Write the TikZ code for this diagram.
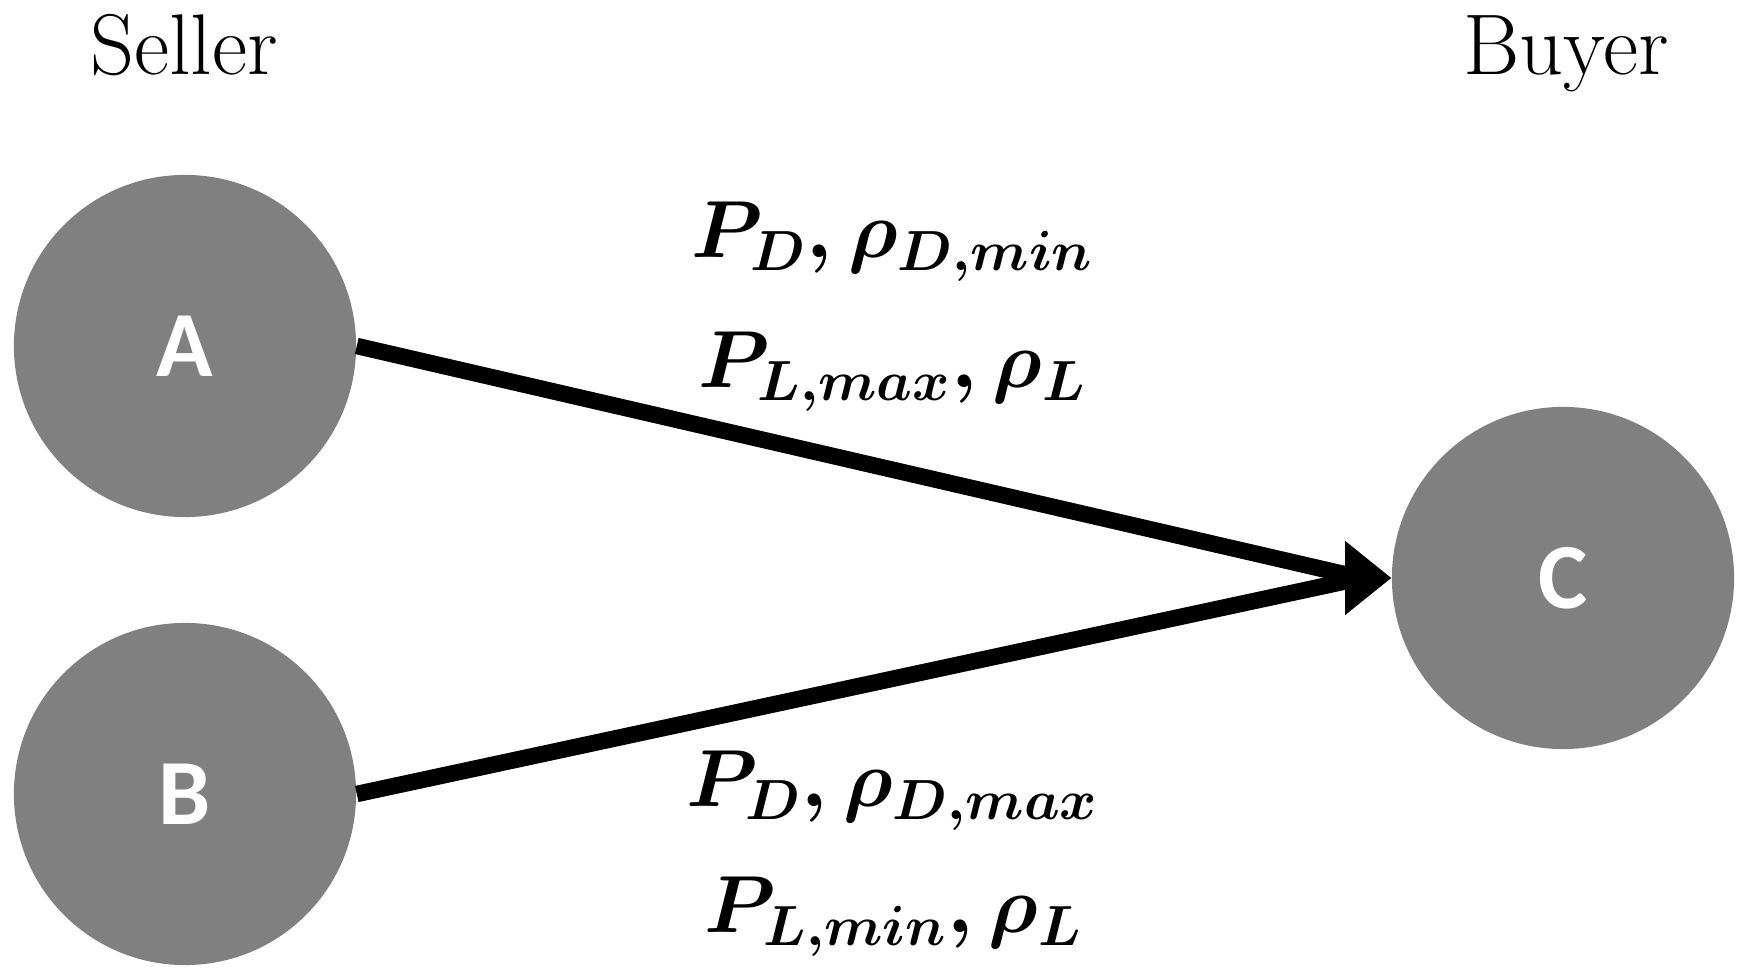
\RequirePackage{fix-cm}
\documentclass[tikz,border=0pt]{standalone}
\usepackage{fontspec}
\newfontfamily\circfont{Carlito}
\definecolor{nodegray}{HTML}{808080}
\tikzset{
  party/.style={circle, fill=nodegray, minimum size=3.42cm, inner sep=0pt,
    text=white, font=\circfont\bfseries\fontsize{26.5}{30}\selectfont},
  role/.style={anchor=base, inner sep=0pt, font=\fontsize{24.5}{28}\selectfont},
  param/.style={anchor=base, inner sep=0pt, font=\fontsize{23}{27}\selectfont\boldmath},
  link/.style={line width=0.165cm, black}
}
\begin{document}
\begin{tikzpicture}[x=0.01cm, y=-0.01cm]
\useasboundingbox (0,0) rectangle (1748,980);
\node[party] (A) at (185,346) {A};
\node[party] (B) at (185,794) {B};
\node[party] (C) at (1563,578) {C};
\node[role] (seller) at (184,75) {Seller};
\node[role] (buyer) at (1566,75) {Buyer};
\node[param] (t1) at (893,258) {$P_D, \rho_{D,min}$};
\node[param] (t2) at (893,388) {$P_{L,max}, \rho_L$};
\node[param] (b1) at (893,807) {$P_D, \rho_{D,max}$};
\node[param] (b2) at (894,933) {$P_{L,min}, \rho_L$};
\coordinate (tipback) at ([xshift=-0.30cm]C.west);
\draw[link] (A.east) -- (tipback);
\draw[link] (B.east) -- (tipback);
\fill[black] (C.west) -- ++(-46,-37) -- ++(0,74) -- cycle;
\end{tikzpicture}
\end{document}
